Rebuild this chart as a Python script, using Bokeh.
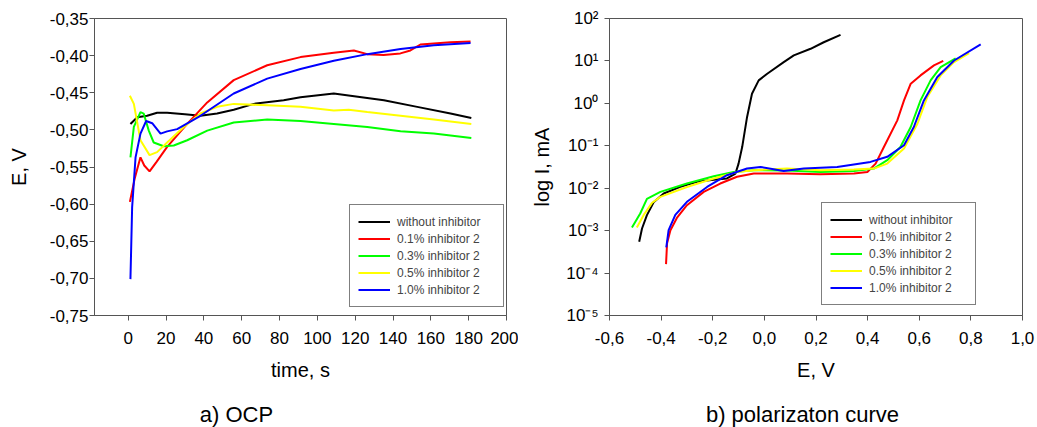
from bokeh.plotting import figure
from bokeh.layouts import row, column
from bokeh.models import FixedTicker, Range1d
from bokeh.core.properties import value
from bokeh.embed import file_html
from bokeh.resources import INLINE

# ---------------- data: a) OCP ----------------
series_names = ["without inhibitor", "0.1% inhibitor 2", "0.3% inhibitor 2",
                "0.5% inhibitor 2", "1.0% inhibitor 2"]
series_colors = ["#000000", "#ff0000", "#00ff00", "#ffff00", "#0000ff"]

t_black = [1.2, 4.8, 10, 15.3, 20.6, 30, 38.2, 47, 55.8, 66.4, 82.2, 91.1, 108.7, 117.5, 135.2, 152.8, 170.4, 181.4]
E_black = [-0.492, -0.483, -0.481, -0.477, -0.477, -0.479, -0.481, -0.478, -0.473, -0.465, -0.460, -0.456, -0.451, -0.454, -0.460, -0.469, -0.478, -0.484]

t_red = [0.9, 3.5, 6.5, 8.5, 11.3, 15, 20.6, 31.2, 41.8, 55.8, 73.5, 91.1, 108.7, 119.3, 126.4, 135, 143.9, 149.2, 154.5, 170.4, 181]
E_red = [-0.597, -0.565, -0.537, -0.548, -0.556, -0.543, -0.523, -0.492, -0.463, -0.433, -0.413, -0.402, -0.396, -0.393, -0.398, -0.399, -0.397, -0.393, -0.385, -0.382, -0.381]

t_green = [1.2, 3, 6.5, 8.2, 10.9, 13.5, 18.8, 24.1, 31.2, 41.8, 55.8, 73.5, 91.1, 108.7, 126.4, 144, 161.6, 181.4]
E_green = [-0.537, -0.496, -0.476, -0.478, -0.501, -0.517, -0.522, -0.521, -0.514, -0.501, -0.490, -0.486, -0.488, -0.492, -0.496, -0.502, -0.505, -0.511]

t_yellow = [0.9, 3, 6.5, 11.3, 15.3, 20.6, 29.4, 38.2, 47.1, 55.8, 73.5, 91.1, 108.7, 116.6, 126.4, 144, 161.6, 181.4]
E_yellow = [-0.454, -0.465, -0.514, -0.534, -0.530, -0.517, -0.496, -0.478, -0.469, -0.465, -0.467, -0.469, -0.474, -0.473, -0.476, -0.481, -0.486, -0.492]

t_blue = [1.2, 2.1, 3.9, 6.5, 9.5, 12.7, 17.1, 20.6, 25.9, 38.2, 55.8, 73.5, 91.1, 108.7, 126.4, 144, 161.6, 181]
E_blue = [-0.701, -0.604, -0.537, -0.505, -0.488, -0.491, -0.505, -0.502, -0.499, -0.481, -0.451, -0.431, -0.418, -0.407, -0.398, -0.391, -0.386, -0.383]

ocp_x_ticks = [0, 20, 40, 60, 80, 100, 120, 140, 160, 180, 200]
ocp_y_ticks = [-0.75, -0.70, -0.65, -0.60, -0.55, -0.50, -0.45, -0.40, -0.35]
ocp_y_labels = ["-0,75", "-0,70", "-0,65", "-0,60", "-0,55", "-0,50", "-0,45", "-0,40", "-0,35"]

# ---------------- data: b) polarization curve (log10 of I, mA) ----------------
pE_black = [-0.485, -0.474, -0.455, -0.429, -0.390, -0.326, -0.261, -0.196, -0.145, -0.112, -0.100, -0.086, -0.067, -0.048, -0.022, 0.011, 0.075, 0.114, 0.179, 0.230, 0.295]
pL_black = [-3.26, -2.95, -2.635, -2.33, -2.125, -1.969, -1.85, -1.80, -1.77, -1.655, -1.42, -1.03, -0.32, 0.228, 0.541, 0.699, 0.972, 1.13, 1.286, 1.44, 1.616]

pE_red = [-0.381, -0.377, -0.364, -0.339, -0.300, -0.235, -0.171, -0.106, -0.041, 0.088, 0.217, 0.347, 0.399, 0.431, 0.463, 0.515, 0.541, 0.567, 0.605, 0.657, 0.693]
pL_red = [-3.79, -3.30, -2.99, -2.70, -2.40, -2.087, -1.89, -1.73, -1.655, -1.655, -1.67, -1.655, -1.616, -1.42, -1.03, -0.40, 0.07, 0.463, 0.659, 0.894, 1.0]

pE_green = [-0.513, -0.481, -0.455, -0.403, -0.300, -0.196, -0.119, -0.041, 0.088, 0.217, 0.347, 0.424, 0.476, 0.527, 0.567, 0.605, 0.644, 0.683, 0.741]
pL_green = [-2.925, -2.596, -2.25, -2.087, -1.89, -1.718, -1.616, -1.576, -1.585, -1.616, -1.593, -1.537, -1.34, -1.03, -0.557, 0.07, 0.541, 0.855, 1.06]

pE_yellow = [-0.494, -0.468, -0.436, -0.403, -0.300, -0.196, -0.106, -0.041, 0.088, 0.217, 0.347, 0.424, 0.476, 0.541, 0.593, 0.631, 0.683, 0.735, 0.793]
pL_yellow = [-2.925, -2.635, -2.35, -2.204, -1.97, -1.77, -1.616, -1.576, -1.537, -1.576, -1.56, -1.537, -1.42, -1.066, -0.48, 0.148, 0.659, 0.972, 1.184]

pE_blue = [-0.380, -0.371, -0.345, -0.300, -0.222, -0.145, -0.067, -0.015, 0.075, 0.153, 0.282, 0.411, 0.476, 0.541, 0.579, 0.618, 0.670, 0.735, 0.838]
pL_blue = [-3.396, -2.99, -2.63, -2.32, -1.97, -1.694, -1.537, -1.499, -1.593, -1.537, -1.499, -1.38, -1.26, -0.988, -0.557, 0.07, 0.62, 1.01, 1.388]

pol_x_ticks = [-0.6, -0.4, -0.2, 0.0, 0.2, 0.4, 0.6, 0.8, 1.0]
pol_x_labels = ["-0,6", "-0,4", "-0,2", "0,0", "0,2", "0,4", "0,6", "0,8", "1,0"]
pol_y_ticks = [-5, -4, -3, -2, -1, 0, 1, 2]
pol_y_labels = ["10\u207b\u2075", "10\u207b\u2074", "10\u207b\u00b3", "10\u207b\u00b2",
                "10\u207b\u00b9", "10\u2070", "10\u00b9", "10\u00b2"]

captions = ["a) OCP", "b) polarizaton curve"]

FONT = "Liberation Sans"
FRAME = "#555555"


def style(p):
    p.outline_line_color = FRAME
    p.outline_line_width = 1
    p.xgrid.visible = False
    p.ygrid.visible = False
    for ax in (p.xaxis[0], p.yaxis[0]):
        ax.axis_line_color = FRAME
        ax.major_tick_line_color = FRAME
        ax.minor_tick_line_color = None
        ax.major_tick_in = 0
        ax.major_tick_out = 5
        ax.major_label_text_font = FONT
        ax.major_label_text_font_size = "17px"
        ax.major_label_text_color = "black"
        ax.axis_label_text_font = FONT
        ax.axis_label_text_font_size = "20px"
        ax.axis_label_text_font_style = "normal"
        ax.axis_label_text_color = "black"
    p.xaxis[0].major_label_standoff = 11
    p.xaxis[0].axis_label_standoff = 12


def style_legend(p, loc):
    lg = p.legend[0]
    lg.location = loc
    lg.margin = 0
    lg.padding = 8
    lg.spacing = 0
    lg.label_height = 17
    lg.glyph_height = 17
    lg.glyph_width = 32
    lg.label_standoff = 7
    lg.label_width = 98
    lg.label_text_font = FONT
    lg.label_text_font_size = "12px"
    lg.border_line_color = "black"
    lg.border_line_width = 1
    lg.background_fill_color = "white"
    lg.background_fill_alpha = 1


def caption_fig(width, text, cx):
    c = figure(width=width, height=37, output_backend="svg", toolbar_location=None,
               x_range=Range1d(0, width), y_range=Range1d(0, 37),
               min_border=0, x_axis_location=None, y_axis_location=None)
    c.outline_line_color = None
    c.xgrid.visible = False
    c.ygrid.visible = False
    c.text(x=[cx], y=[13], text=[text], text_align="center", text_baseline="alphabetic",
           text_font=value(FONT), text_font_size="22px", text_color="black")
    return c


# ---------------- figure a ----------------
p1 = figure(width=518, height=390, output_backend="svg", toolbar_location=None,
            x_range=Range1d(-17.8, 200), y_range=Range1d(-0.75, -0.35),
            min_border_left=94, min_border_right=12, min_border_top=18, min_border_bottom=75,
            x_axis_label="time, s", y_axis_label="E, V")
ocp = [(t_black, E_black), (t_red, E_red), (t_green, E_green), (t_yellow, E_yellow), (t_blue, E_blue)]
for (xs, ys), name, col in zip(ocp, series_names, series_colors):
    p1.line(xs, ys, line_color=col, line_width=2, legend_label=name)
style(p1)
p1.xaxis[0].ticker = FixedTicker(ticks=ocp_x_ticks)
p1.yaxis[0].ticker = FixedTicker(ticks=ocp_y_ticks)
p1.yaxis[0].major_label_overrides = {v: s for v, s in zip(ocp_y_ticks, ocp_y_labels)}
p1.yaxis[0].major_label_standoff = 1
p1.yaxis[0].axis_label_standoff = 17
style_legend(p1, (255, 8))

# ---------------- figure b ----------------
p2 = figure(width=519, height=390, output_backend="svg", toolbar_location=None,
            x_range=Range1d(-0.6, 1.0), y_range=Range1d(-5, 2),
            min_border_left=91, min_border_right=15, min_border_top=18, min_border_bottom=75,
            x_axis_label="E, V", y_axis_label="log I, mA")
pol = [(pE_black, pL_black), (pE_red, pL_red), (pE_green, pL_green), (pE_yellow, pL_yellow), (pE_blue, pL_blue)]
for (xs, ys), name, col in zip(pol, series_names, series_colors):
    p2.line(xs, ys, line_color=col, line_width=2, legend_label=name)
style(p2)
p2.xaxis[0].ticker = FixedTicker(ticks=pol_x_ticks)
p2.xaxis[0].major_label_overrides = {v: s for v, s in zip(pol_x_ticks, pol_x_labels)}
p2.yaxis[0].ticker = FixedTicker(ticks=pol_y_ticks)
p2.yaxis[0].major_label_overrides = {v: s for v, s in zip(pol_y_ticks, pol_y_labels)}
p2.yaxis[0].major_label_standoff = 6
p2.yaxis[0].axis_label_standoff = 10
style_legend(p2, (212, 10))

c1 = caption_fig(518, captions[0], 236)
c2 = caption_fig(519, captions[1], 802 - 518)

layout = column(row(p1, p2, spacing=0), row(c1, c2, spacing=0), spacing=0)
open("out.html", "w").write(file_html(layout, INLINE))
